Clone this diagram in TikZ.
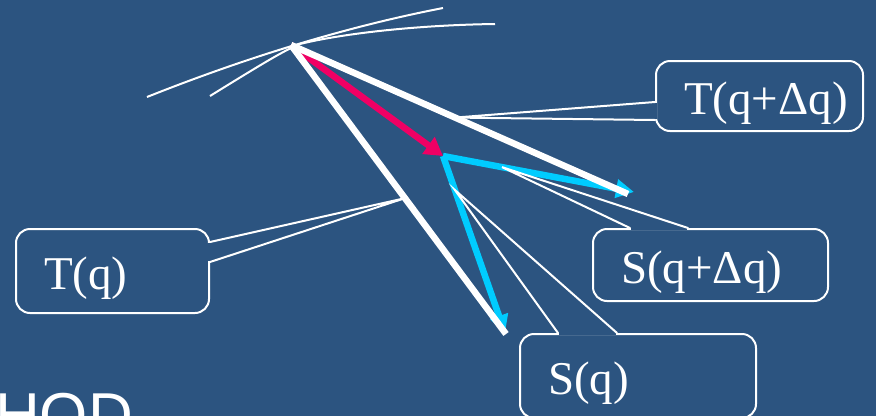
\documentclass[tikz,border=0pt]{standalone}
\usepackage{fontspec}
\setmainfont{Liberation Serif}
\newfontfamily\titlefont{Liberation Sans}
\usetikzlibrary{calc,arrows.meta}

\definecolor{slideblue}{RGB}{44,84,128}
\definecolor{stepcyan}{RGB}{0,204,255}
\definecolor{steppink}{RGB}{240,0,100}

\newcommand{\defineCoordinates}{
    \coordinate (p) at (291, 45);       % base point
    \coordinate (tqEnd) at (506, 334);  % T(q)
    \coordinate (tdEnd) at (628, 194);  % T(q+dq)
    \coordinate (m) at (443, 156);      % after the step
    \coordinate (sqEnd) at (505, 333);  % S(q)
    \coordinate (sdEnd) at (634, 192);  % S(q+dq)
    % pointer tips
    \coordinate (tqTip) at ($(p)!0.53!(tqEnd)$);
    \coordinate (tdTip) at ($(p)!0.487!(tdEnd)$);
    \coordinate (sqTip) at ($(m)!0.192!(sqEnd)$);
    \coordinate (sdTip) at ($(m)!0.309!(sdEnd)$);
}
% #1 notch start, #2 tip, #3 notch end, #4 half size of the gap
\newcommand{\drawPointer}[4]{
    \fill[slideblue] ($(#1)+#4$) rectangle ($(#3)-#4$);
    \draw[pointer line] (#1) -- (#2) -- (#3);
}

\begin{document}
\begin{tikzpicture}[
    x=1pt, y=-1pt,
    % lines
    tangent line/.style={line width=6.5pt, white},
    pink step/.style={line width=6.5pt, steppink, -{Triangle[length=18pt,width=20pt]}},
    cyan step/.style={line width=6.5pt, stepcyan, -{Triangle[length=18pt,width=18pt]}},
    thin curve/.style={line width=2pt, white},
    pointer line/.style={line width=2pt, white, line cap=round},
    % boxes
    callout box/.style={draw=white, line width=2pt, rounded corners=14pt,
        anchor=north west, text=white, font=\fontsize{47}{47}\selectfont,
        align=left, inner xsep=28pt, inner ysep=0pt, text height=36pt, text depth=0pt},
    title text/.style={anchor=base west, inner sep=0pt, text=white,
        font=\titlefont\fontsize{62}{62}\selectfont}
]
\useasboundingbox (0,0) rectangle (876,416);
\clip (0,0) rectangle (876,416);
\fill[slideblue] (0,0) rectangle (876,416);

\defineCoordinates

% 1. curves through the base point
\draw[thin curve] (147,97) .. controls (245,58) and (345,27) .. (443,8);
\draw[thin curve] (210,96) .. controls (265,62) and (285,50) .. (300,44)
    .. controls (345,33) and (420,25) .. (495,24);

% 2. step and the two directions
\draw[pink step] (p) -- (m);
\draw[cyan step] (m) -- (sdEnd);
\draw[cyan step] (m) -- (sqEnd);
\draw[tangent line] (p) -- (tdEnd);
\draw[tangent line] (p) -- (tqEnd);

% 3. callouts
\node[callout box, text width=137pt, minimum height=84pt] (tqBox) at (15,228) {T(q)};
\node[callout box, text width=151pt, minimum height=70pt] (tdBox) at (655,60) {T(q+Δq)};
\node[callout box, text width=179pt, minimum height=72pt] (sdBox) at (592,228) {S(q+Δq)};
\node[callout box, text width=180pt, minimum height=84pt] (sqBox) at (519,333) {S(q)};

\drawPointer{$(tqBox.north east)+(0,14)$}{tqTip}{$(tqBox.north east)+(0,34)$}{(-2,1)}
\drawPointer{$(tdBox.north west)+(0,42)$}{tdTip}{$(tdBox.north west)+(0,60)$}{(-2,1)}
\drawPointer{$(sdBox.north west)+(38,0)$}{sdTip}{$(sdBox.north west)+(96,0)$}{(1,-2)}
\drawPointer{$(sqBox.north west)+(39,0)$}{sqTip}{$(sqBox.north west)+(98,0)$}{(1,-2)}

% 4. cut-off title
\node[title text] (title) at (-5,436) {HOD};

\end{tikzpicture}
\end{document}
